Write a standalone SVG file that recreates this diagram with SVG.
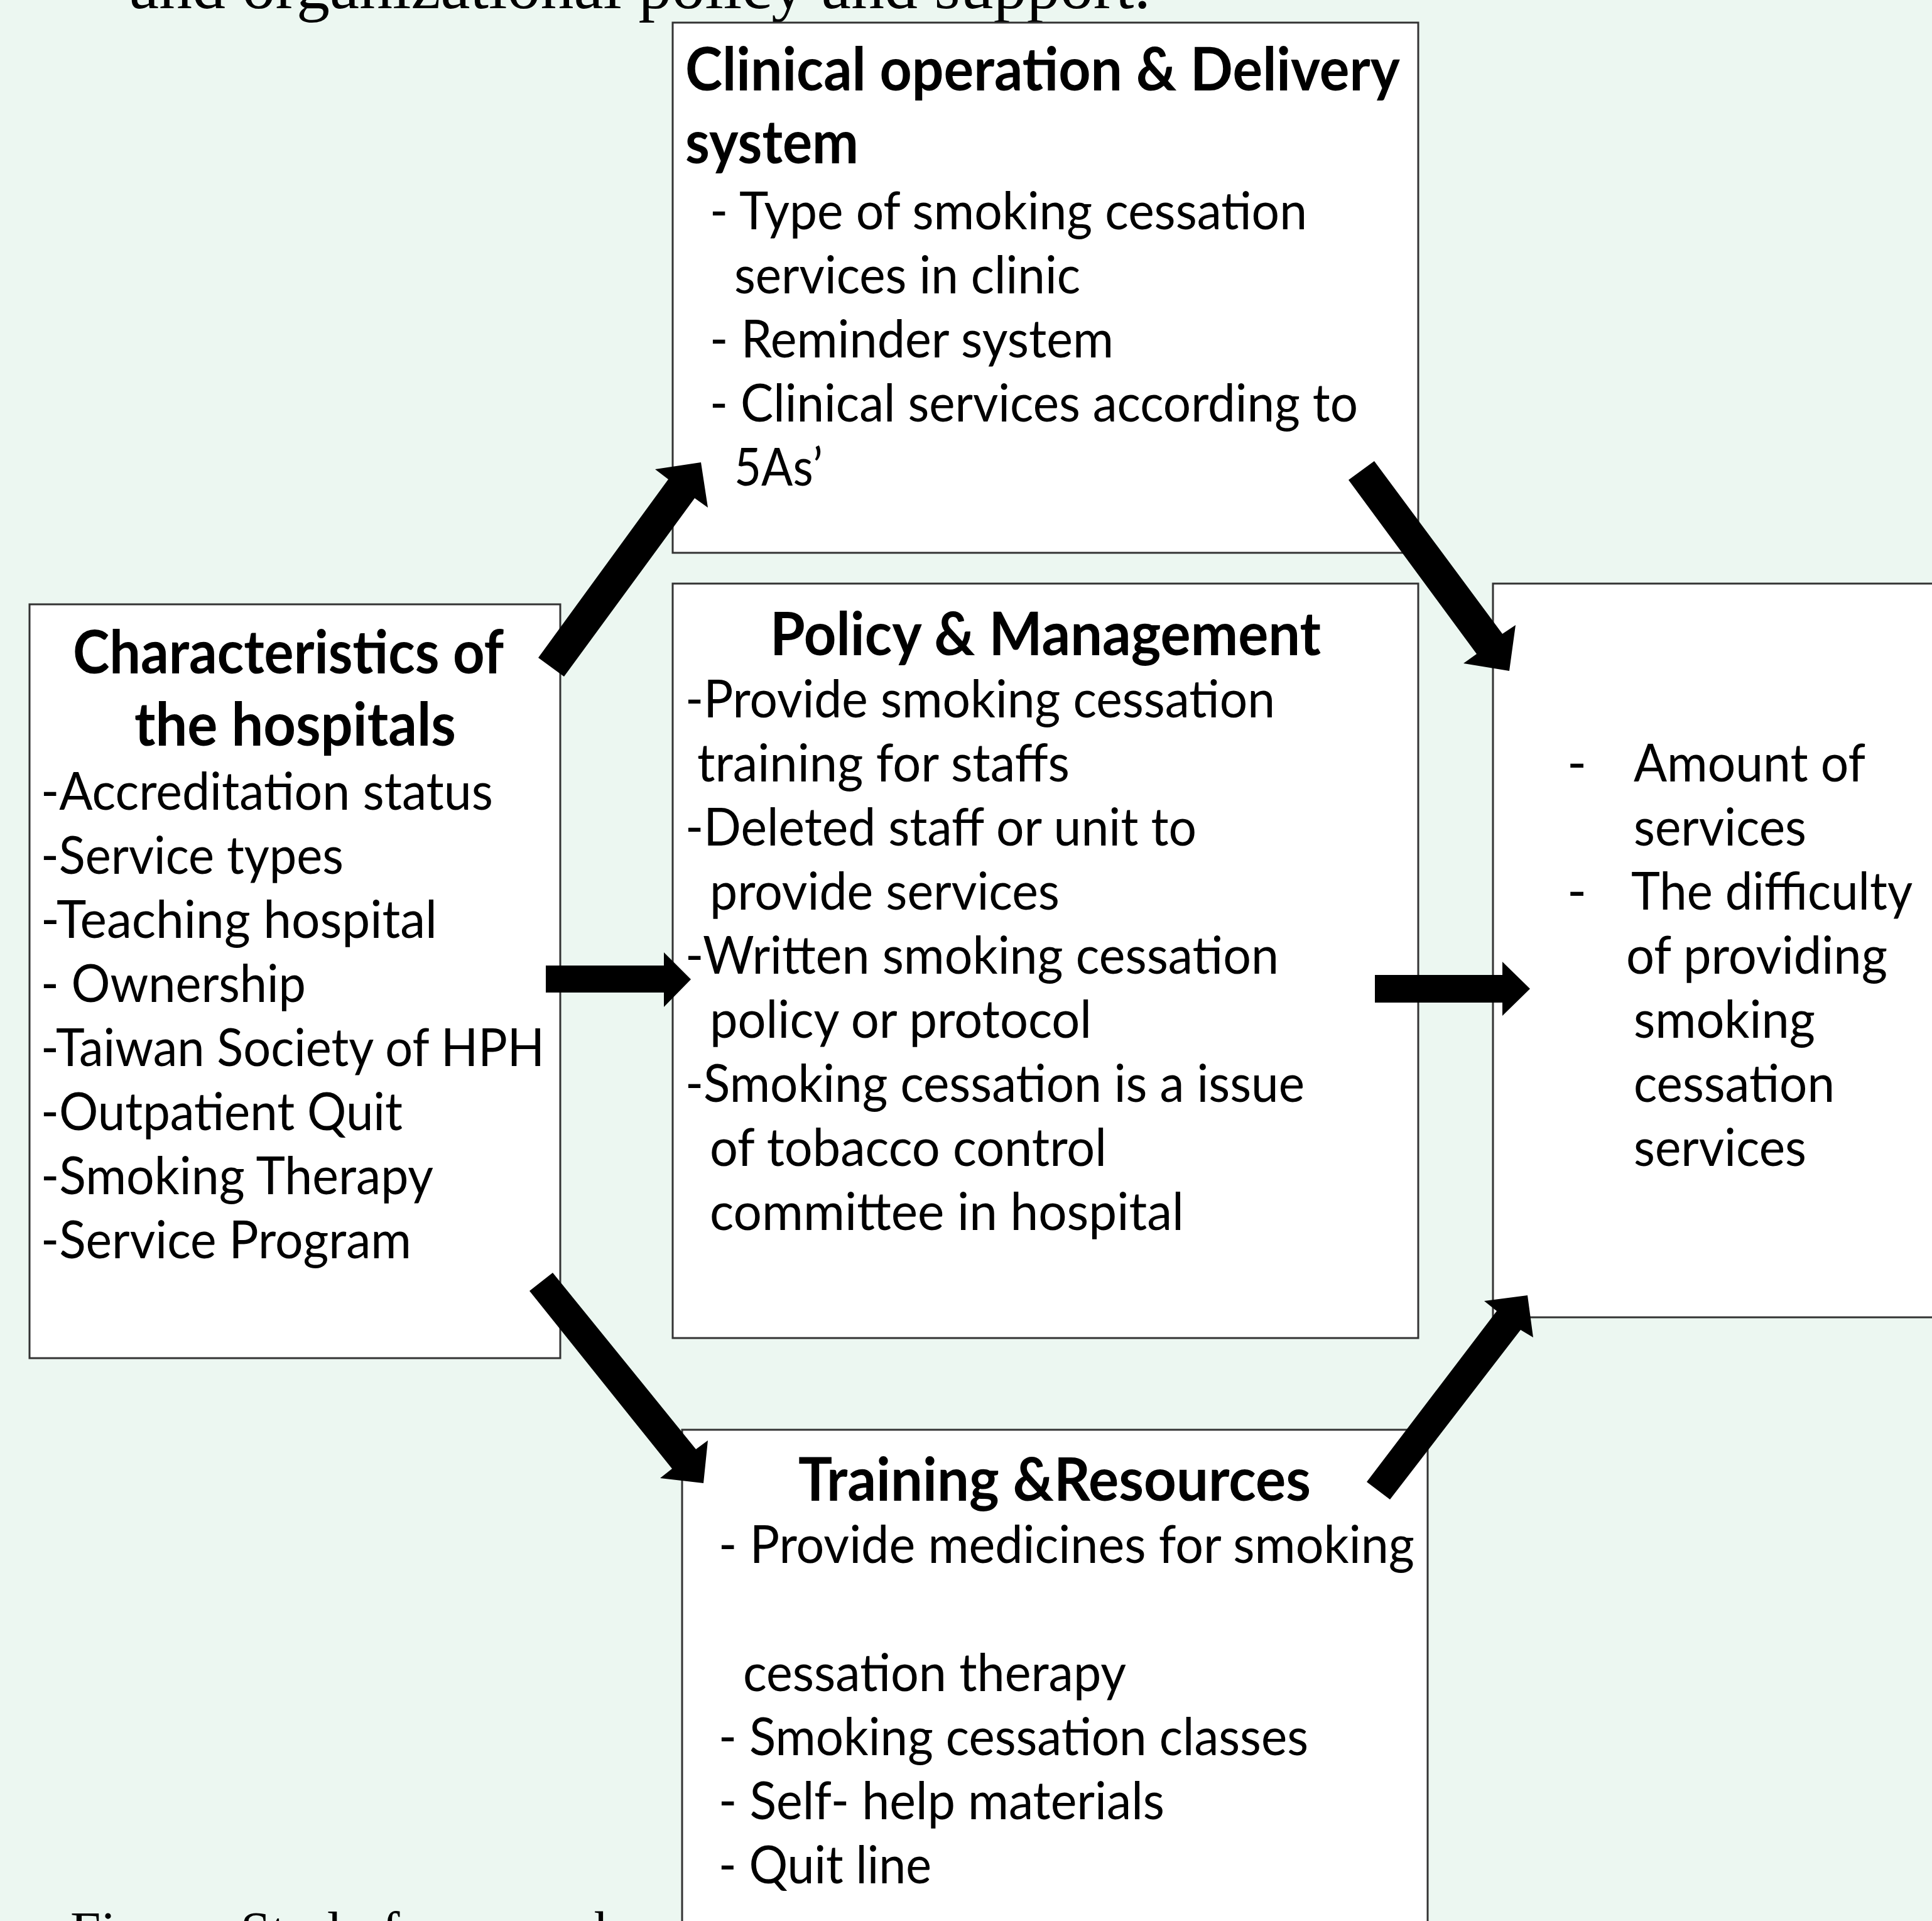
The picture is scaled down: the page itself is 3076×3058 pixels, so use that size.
<svg xmlns="http://www.w3.org/2000/svg" width="3076" height="3058" viewBox="0 0 3076 3058">
<style>
.box{fill:#ffffff;stroke:#333333;stroke-width:3}
.h{font-family:Lato,"Open Sans","Liberation Sans",sans-serif;font-weight:bold;font-size:96px;fill:#000}
.t{font-family:Lato,"Open Sans","Liberation Sans",sans-serif;font-size:84px;fill:#000}
.cap{font-family:"Liberation Serif","Times New Roman",serif;font-size:106px;fill:#000}
.arrow{fill:#000}
</style>
<rect x="0" y="0" width="3076" height="3058" fill="#ECF7F1"/>
<text class="cap" x="206" y="13">and organizational policy and support.</text>
<text class="cap" x="112" y="3103" style="font-size:87px">Figure. Study framework</text>

<g id="node-characteristics">
<rect class="box" x="47" y="962" width="845" height="1200"/>
<text class="h" x="116" y="1072" textLength="686" lengthAdjust="spacingAndGlyphs">Characteristics of</text>
<text class="h" x="214" y="1187" textLength="512" lengthAdjust="spacingAndGlyphs">the hospitals</text>
<text class="t" x="65" y="1289" textLength="720" lengthAdjust="spacingAndGlyphs">-Accreditation status</text>
<text class="t" x="65" y="1391" textLength="482" lengthAdjust="spacingAndGlyphs">-Service types</text>
<text class="t" x="65" y="1493" textLength="631" lengthAdjust="spacingAndGlyphs">-Teaching hospital</text>
<text class="t" x="65" y="1595" textLength="422" lengthAdjust="spacingAndGlyphs">- Ownership</text>
<text class="t" x="65" y="1697" textLength="802" lengthAdjust="spacingAndGlyphs">-Taiwan Society of HPH</text>
<text class="t" x="65" y="1799" textLength="576" lengthAdjust="spacingAndGlyphs">-Outpatient Quit</text>
<text class="t" x="65" y="1901" textLength="625" lengthAdjust="spacingAndGlyphs">-Smoking Therapy</text>
<text class="t" x="65" y="2003" textLength="590" lengthAdjust="spacingAndGlyphs">-Service Program</text>
</g>

<g id="node-clinical">
<rect class="box" x="1071" y="36" width="1187" height="844"/>
<text class="h" x="1091" y="144" textLength="1138" lengthAdjust="spacingAndGlyphs">Clinical operation &amp; Delivery</text>
<text class="h" x="1091" y="260" textLength="276" lengthAdjust="spacingAndGlyphs">system</text>
<text class="t" x="1130" y="365" textLength="951" lengthAdjust="spacingAndGlyphs">- Type of smoking cessation</text>
<text class="t" x="1169" y="467" textLength="551" lengthAdjust="spacingAndGlyphs">services in clinic</text>
<text class="t" x="1130" y="569" textLength="643" lengthAdjust="spacingAndGlyphs">- Reminder system</text>
<text class="t" x="1130" y="671" textLength="1032" lengthAdjust="spacingAndGlyphs">- Clinical services according to</text>
<text class="t" x="1169" y="773" textLength="141" lengthAdjust="spacingAndGlyphs">5As’</text>
</g>

<g id="node-policy">
<rect class="box" x="1071" y="929" width="1187" height="1201"/>
<text class="h" x="1226" y="1043" textLength="877" lengthAdjust="spacingAndGlyphs">Policy &amp; Management</text>
<text class="t" x="1091" y="1142" textLength="939" lengthAdjust="spacingAndGlyphs">-Provide smoking cessation</text>
<text class="t" x="1110" y="1244" textLength="593" lengthAdjust="spacingAndGlyphs">training for staffs</text>
<text class="t" x="1091" y="1346" textLength="814" lengthAdjust="spacingAndGlyphs">-Deleted staff or unit to</text>
<text class="t" x="1130" y="1448" textLength="557" lengthAdjust="spacingAndGlyphs">provide services</text>
<text class="t" x="1091" y="1550" textLength="945" lengthAdjust="spacingAndGlyphs">-Written smoking cessation</text>
<text class="t" x="1130" y="1652" textLength="608" lengthAdjust="spacingAndGlyphs">policy or protocol</text>
<text class="t" x="1091" y="1754" textLength="986" lengthAdjust="spacingAndGlyphs">-Smoking cessation is a issue</text>
<text class="t" x="1130" y="1856" textLength="632" lengthAdjust="spacingAndGlyphs">of tobacco control</text>
<text class="t" x="1130" y="1958" textLength="755" lengthAdjust="spacingAndGlyphs">committee in hospital</text>
</g>

<g id="node-outcome">
<rect class="box" x="2377" y="929" width="760" height="1168"/>
<text class="t" x="2495" y="1244">-</text>
<text class="t" x="2601" y="1244" textLength="369" lengthAdjust="spacingAndGlyphs">Amount of</text>
<text class="t" x="2601" y="1346" textLength="275" lengthAdjust="spacingAndGlyphs">services</text>
<text class="t" x="2495" y="1448">-</text>
<text class="t" x="2597" y="1448" textLength="448" lengthAdjust="spacingAndGlyphs">The difficulty</text>
<text class="t" x="2589" y="1550" textLength="416" lengthAdjust="spacingAndGlyphs">of providing</text>
<text class="t" x="2601" y="1652" textLength="289" lengthAdjust="spacingAndGlyphs">smoking</text>
<text class="t" x="2601" y="1754" textLength="320" lengthAdjust="spacingAndGlyphs">cessation</text>
<text class="t" x="2601" y="1856" textLength="275" lengthAdjust="spacingAndGlyphs">services</text>
</g>

<g id="node-training">
<rect class="box" x="1086" y="2276" width="1187" height="900"/>
<text class="h" x="1271" y="2389" textLength="816" lengthAdjust="spacingAndGlyphs">Training &amp;Resources</text>
<text class="t" x="1144" y="2488" textLength="1108" lengthAdjust="spacingAndGlyphs">- Provide medicines for smoking</text>
<text class="t" x="1183" y="2692" textLength="610" lengthAdjust="spacingAndGlyphs">cessation therapy</text>
<text class="t" x="1144" y="2794" textLength="939" lengthAdjust="spacingAndGlyphs">- Smoking cessation classes</text>
<text class="t" x="1144" y="2896" textLength="710" lengthAdjust="spacingAndGlyphs">- Self- help materials</text>
<text class="t" x="1144" y="2998" textLength="339" lengthAdjust="spacingAndGlyphs">- Quit line</text>
</g>

<g id="connectors">
<polygon class="arrow" points="857,1047 1064,763 1043,747 1116,736 1127,808 1106,793 898,1077"/>
<polygon class="arrow" points="2188,734 2392,1009 2413,995 2403,1068 2330,1056 2351,1041 2147,764"/>
<polygon class="arrow" points="869,1537 1057,1537 1057,1516 1100,1559 1057,1603 1057,1580 869,1580"/>
<polygon class="arrow" points="2189,1552 2392,1552 2392,1531 2436,1574 2392,1617 2392,1596 2189,1596"/>
<polygon class="arrow" points="880,2026 1108,2307 1127,2293 1120,2361 1051,2353 1070,2338 843,2055"/>
<polygon class="arrow" points="2176,2359 2383,2087 2363,2071 2432,2062 2441,2129 2421,2117 2213,2387"/>
</g>
</svg>
